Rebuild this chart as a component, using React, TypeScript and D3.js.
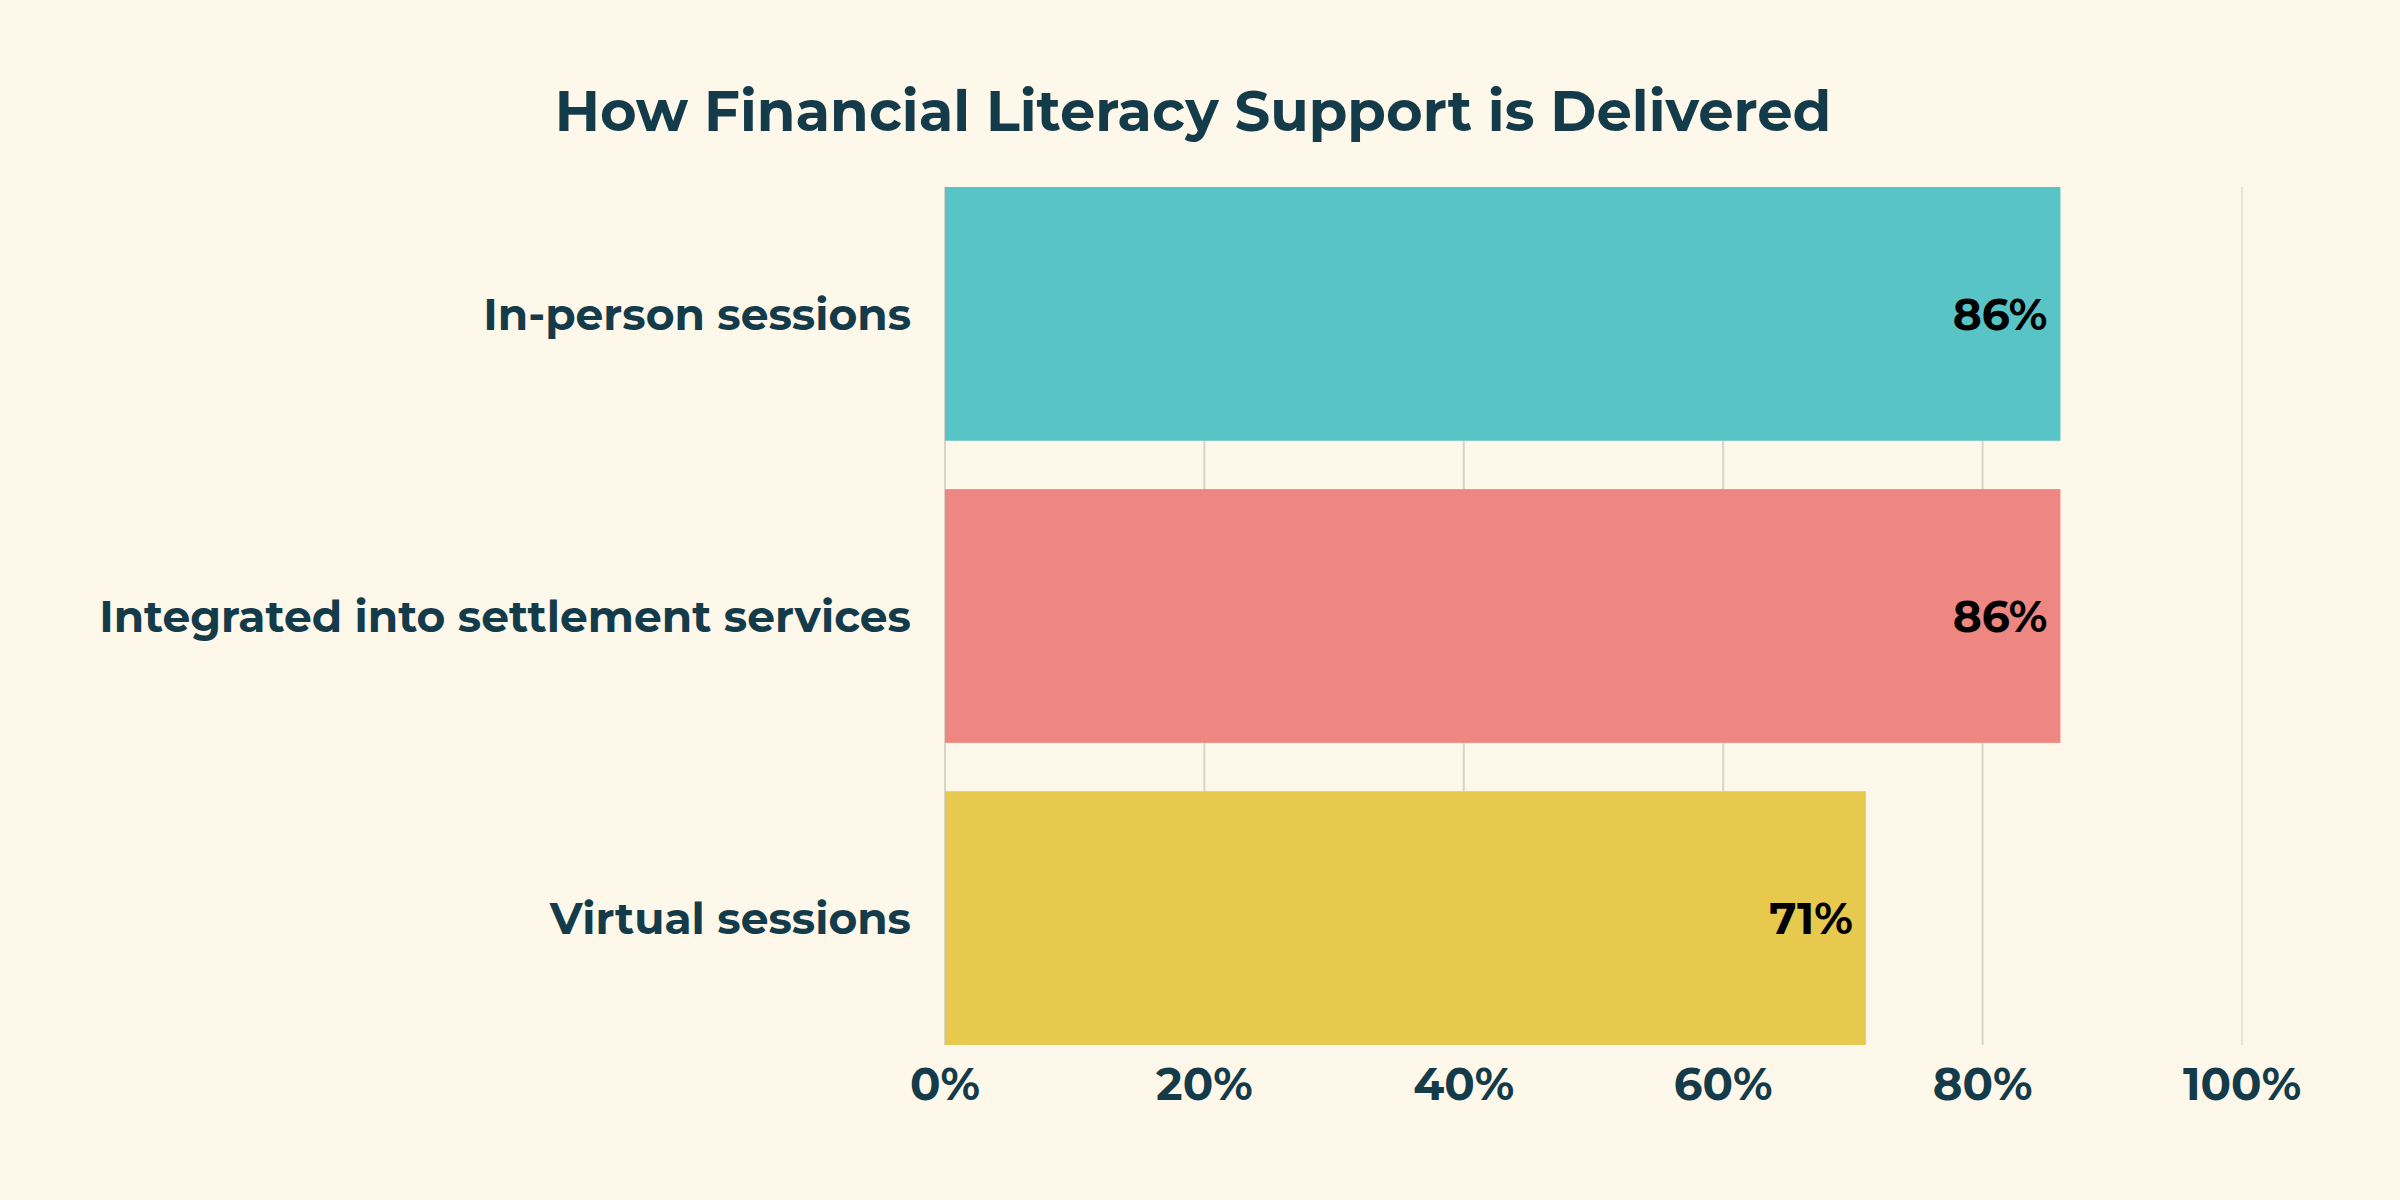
import React, { useEffect, useRef } from 'react';
import * as d3 from 'd3';

const categories = ['In-person sessions', 'Integrated into settlement services', 'Virtual sessions'];
const values = [86, 86, 71];
const barColors = ['#58C4C6', '#EE8782', '#E7C94E'];
const ticks = [0, 20, 40, 60, 80, 100];
const title = 'How Financial Literacy Support is Delivered';

const FONT = 'Montserrat, Inter, "Noto Sans", sans-serif';
const INK = '#143B4A';

const App: React.FC = () => {
  const svgRef = useRef<SVGSVGElement>(null);

  useEffect(() => {
    document.body.style.margin = '0';
    if (!svgRef.current) return;

    const width = 2400;
    const height = 1200;
    const margin = { top: 187, right: 158, bottom: 155, left: 945 };

    const svg = d3.select(svgRef.current);
    svg.selectAll('*').remove();
    svg.attr('width', width).attr('height', height);

    svg.append('rect')
      .attr('width', width)
      .attr('height', height)
      .attr('fill', '#FEF8EA');

    const x = d3.scaleLinear().domain([0, 100]).range([margin.left, width - margin.right]);
    const y = d3.scaleBand<string>()
      .domain(categories)
      .range([margin.top, height - margin.bottom])
      .paddingInner(0.16)
      .paddingOuter(0);

    // Grid lines behind bars (the last one is fainter)
    svg.append('g')
      .selectAll('line')
      .data(ticks)
      .enter()
      .append('line')
      .attr('x1', (d) => x(d))
      .attr('x2', (d) => x(d))
      .attr('y1', margin.top)
      .attr('y2', height - margin.bottom)
      .attr('stroke', (d) => (d === 100 ? '#E8E3D5' : '#D8D4C9'))
      .attr('stroke-width', 2);

    // Bars
    svg.append('g')
      .selectAll('rect')
      .data(categories)
      .enter()
      .append('rect')
      .attr('x', x(0))
      .attr('y', (d) => y(d)!)
      .attr('width', (_, i) => x(values[i]) - x(0))
      .attr('height', y.bandwidth())
      .attr('fill', (_, i) => barColors[i]);

    // Value labels
    svg.append('g')
      .selectAll('text')
      .data(categories)
      .enter()
      .append('text')
      .attr('x', (_, i) => x(values[i]) - 13)
      .attr('y', (d) => y(d)! + y.bandwidth() / 2)
      .attr('dy', '0.36em')
      .attr('text-anchor', 'end')
      .attr('font-family', FONT)
      .attr('font-weight', 700)
      .attr('font-size', '44px')
      .attr('fill', '#000')
      .text((_, i) => `${values[i]}%`);

    // Category labels
    svg.append('g')
      .selectAll('text')
      .data(categories)
      .enter()
      .append('text')
      .attr('x', x(0) - 34)
      .attr('y', (d) => y(d)! + y.bandwidth() / 2)
      .attr('dy', '0.36em')
      .attr('text-anchor', 'end')
      .attr('font-family', FONT)
      .attr('font-weight', 700)
      .attr('font-size', '44px')
      .attr('fill', INK)
      .text((d) => d);

    // X tick labels
    svg.append('g')
      .selectAll('text')
      .data(ticks)
      .enter()
      .append('text')
      .attr('x', (d) => x(d))
      .attr('y', 1100)
      .attr('text-anchor', 'middle')
      .attr('font-family', FONT)
      .attr('font-weight', 700)
      .attr('font-size', '45px')
      .attr('fill', INK)
      .text((d) => `${d}%`);

    // Title
    svg.append('text')
      .attr('x', 1193)
      .attr('y', 131)
      .attr('text-anchor', 'middle')
      .attr('font-family', FONT)
      .attr('font-weight', 700)
      .attr('font-size', '56px')
      .attr('fill', INK)
      .text(title);
  }, []);

  return <svg ref={svgRef}></svg>;
};

export default App;
